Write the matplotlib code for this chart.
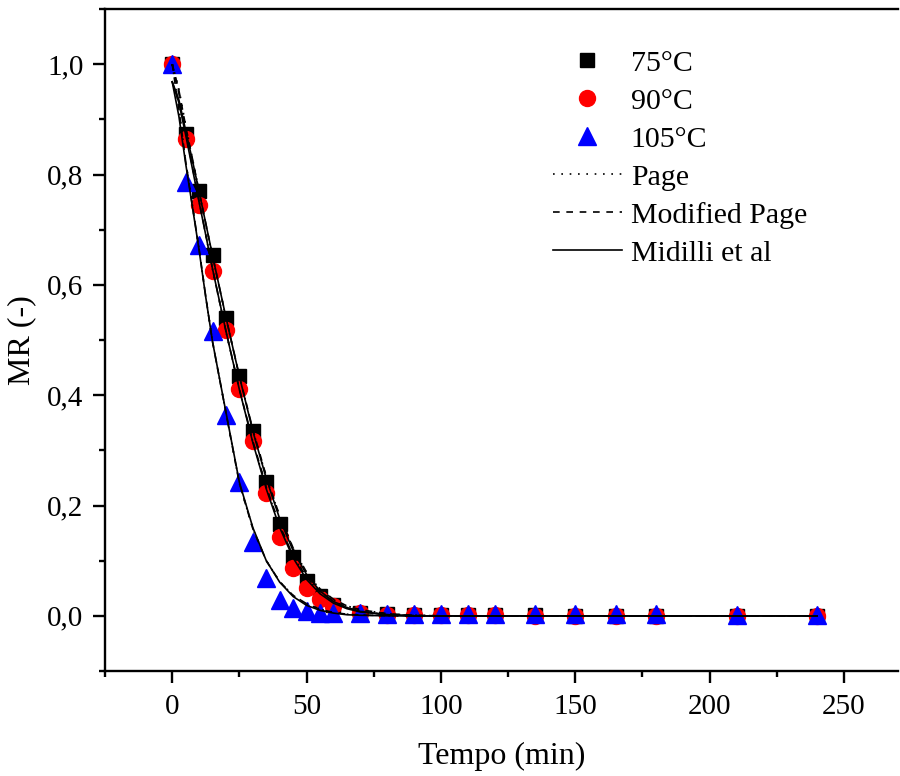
import matplotlib
matplotlib.use("Agg")
import matplotlib.pyplot as plt
from matplotlib.ticker import MultipleLocator, FuncFormatter

plt.rcParams['font.family'] = ['Liberation Serif', 'DejaVu Serif']

# measured drying data (MR vs time)
t_exp = [0, 5, 10, 15, 20, 25, 30, 35, 40, 45, 50, 55, 60, 70, 80, 90, 100, 110, 120, 135, 150, 165, 180, 210, 240]
mr_75 = [1.0, 0.873, 0.770, 0.654, 0.540, 0.435, 0.335, 0.242, 0.167, 0.106, 0.063, 0.036, 0.020,
         0.006, 0.003, 0.002, 0.001, 0.001, 0.001, 0.001, 0.0, 0.0, 0.0, 0.0, 0.0]
mr_90 = [1.0, 0.864, 0.744, 0.625, 0.518, 0.411, 0.317, 0.223, 0.143, 0.087, 0.050, 0.030, 0.017,
         0.005, 0.002, 0.001, 0.001, 0.001, 0.001, 0.0, 0.0, 0.0, 0.0, 0.0, 0.0]
mr_105 = [1.0, 0.786, 0.673, 0.517, 0.364, 0.242, 0.134, 0.068, 0.028, 0.014, 0.008, 0.006, 0.006,
          0.005, 0.004, 0.003, 0.003, 0.003, 0.003, 0.003, 0.003, 0.003, 0.003, 0.002, 0.002]

# fitted model curves
t_fit = [0, 2.5, 5, 7.5, 10, 12.5, 15, 20, 25, 30, 35, 40, 45, 50, 55, 60, 65, 70, 80, 90, 100, 120, 150, 180, 210, 240]
page_75 = [1.0, 0.955, 0.890, 0.830, 0.770, 0.710, 0.652, 0.540, 0.434, 0.337, 0.252, 0.180, 0.122, 0.078,
           0.048, 0.029, 0.018, 0.011, 0.004, 0.001, 0.0, 0.0, 0.0, 0.0, 0.0, 0.0]
page_90 = [1.0, 0.950, 0.880, 0.815, 0.752, 0.690, 0.628, 0.515, 0.410, 0.316, 0.233, 0.163, 0.108, 0.069,
           0.043, 0.026, 0.015, 0.008, 0.002, 0.0005, 0.0, 0.0, 0.0, 0.0, 0.0, 0.0]
page_105 = [1.0, 0.920, 0.825, 0.745, 0.665, 0.578, 0.497, 0.368, 0.240, 0.158, 0.100, 0.062, 0.037, 0.022,
            0.012, 0.006, 0.003, 0.0015, 0.0003, 0.0, 0.0, 0.0, 0.0, 0.0, 0.0, 0.0]
mpage_75 = [1.0, 0.952, 0.888, 0.829, 0.770, 0.711, 0.653, 0.541, 0.435, 0.338, 0.253, 0.181, 0.123, 0.079,
            0.049, 0.030, 0.018, 0.011, 0.004, 0.001, 0.0, 0.0, 0.0, 0.0, 0.0, 0.0]
mpage_90 = [1.0, 0.947, 0.878, 0.814, 0.752, 0.691, 0.629, 0.516, 0.411, 0.317, 0.234, 0.164, 0.109, 0.070,
            0.044, 0.026, 0.015, 0.008, 0.002, 0.0005, 0.0, 0.0, 0.0, 0.0, 0.0, 0.0]
mpage_105 = [1.0, 0.918, 0.824, 0.744, 0.665, 0.578, 0.497, 0.368, 0.240, 0.158, 0.100, 0.062, 0.037, 0.022,
             0.012, 0.006, 0.003, 0.0015, 0.0003, 0.0, 0.0, 0.0, 0.0, 0.0, 0.0, 0.0]
mid_75 = [0.968, 0.935, 0.880, 0.826, 0.769, 0.711, 0.653, 0.541, 0.434, 0.335, 0.249, 0.176, 0.118, 0.075,
          0.045, 0.026, 0.015, 0.008, 0.002, 0.0, 0.0, 0.0, 0.0, 0.0, 0.0, 0.0]
mid_90 = [0.968, 0.930, 0.872, 0.811, 0.750, 0.690, 0.629, 0.516, 0.410, 0.314, 0.230, 0.160, 0.105, 0.066,
          0.040, 0.023, 0.013, 0.007, 0.002, 0.0, 0.0, 0.0, 0.0, 0.0, 0.0, 0.0]
mid_105 = [0.968, 0.905, 0.820, 0.742, 0.663, 0.577, 0.497, 0.369, 0.242, 0.160, 0.100, 0.061, 0.035, 0.019,
           0.010, 0.005, 0.002, 0.001, 0.0, 0.0, 0.0, 0.0, 0.0, 0.0, 0.0, 0.0]


fig = plt.figure(figsize=(9, 7.76), dpi=100)
ax = fig.add_axes([0.1167, 0.1353, 0.8808, 0.8531])

ax.plot(t_exp, mr_75, 's', color='black', ms=10, label='75°C', zorder=3)
ax.plot(t_exp, mr_90, 'o', color='red', ms=11.5, label='90°C', zorder=3)
ax.plot(t_exp, mr_105, '^', color='blue', ms=13, label='105°C', zorder=3)

lw = 1.2
ax.plot(t_fit, page_75, color='black', lw=lw, ls=(0, (1, 4)), label='Page', zorder=4)
ax.plot(t_fit, page_90, color='black', lw=lw, ls=(0, (1, 4)), zorder=4)
ax.plot(t_fit, page_105, color='black', lw=lw, ls=(0, (1, 4)), zorder=4)
ax.plot(t_fit, mpage_75, color='black', lw=lw, ls=(0, (4, 4)), label='Modified Page', zorder=4)
ax.plot(t_fit, mpage_90, color='black', lw=lw, ls=(0, (4, 4)), zorder=4)
ax.plot(t_fit, mpage_105, color='black', lw=lw, ls=(0, (4, 4)), zorder=4)
ax.plot(t_fit, mid_75, color='black', lw=lw, ls='-', label='Midilli et al', zorder=4)
ax.plot(t_fit, mid_90, color='black', lw=lw, ls='-', zorder=4)
ax.plot(t_fit, mid_105, color='black', lw=lw, ls='-', zorder=4)

ax.set_xlim(-25, 270)
ax.set_ylim(-0.1, 1.1)

ax.xaxis.set_major_locator(MultipleLocator(50))
ax.xaxis.set_minor_locator(MultipleLocator(25))
ax.yaxis.set_major_locator(MultipleLocator(0.2))
ax.yaxis.set_minor_locator(MultipleLocator(0.1))
ax.yaxis.set_major_formatter(FuncFormatter(lambda v, p: f"{v:.1f}".replace('.', ',').replace('-0,0', '0,0')))

ax.spines['right'].set_visible(False)
for s in ['left', 'bottom', 'top']:
    ax.spines[s].set_linewidth(1.7)

ax.tick_params(which='major', direction='out', length=8.5, width=1.7, labelsize=21, pad=7)
ax.tick_params(axis='x', which='major', pad=8)
ax.tick_params(which='minor', direction='out', length=4.5, width=1.7)
ax.tick_params(top=False, right=False, which='both')

ax.set_xlabel('Tempo (min)', fontsize=23, labelpad=16)
ax.set_ylabel('MR (-)', fontsize=23, labelpad=8)

leg = ax.legend(loc='upper left', bbox_to_anchor=(553 / 900, 1 - 50 / 776), bbox_transform=fig.transFigure,
                frameon=False, fontsize=21.5, handlelength=2.3, handletextpad=0.3,
                labelspacing=0.37, borderpad=0, borderaxespad=0)

fig.savefig('out.png', dpi=100)
